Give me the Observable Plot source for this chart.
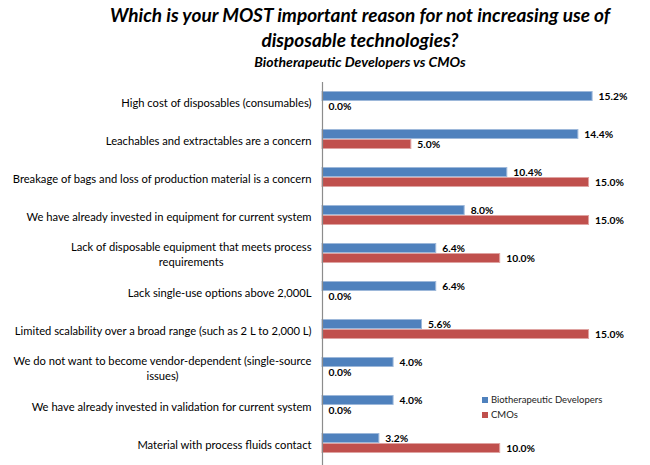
<!DOCTYPE html>
<html><head><meta charset="utf-8">
<script src="https://cdn.jsdelivr.net/npm/d3@7"></script>
<script src="https://cdn.jsdelivr.net/npm/@observablehq/plot@0.6"></script>
<style>
body{margin:0;background:#fff;font-family:Lato,sans-serif;}
#wrap{position:relative;width:650px;height:465px;overflow:hidden;}
#title{position:absolute;left:0;top:2px;width:720px;text-align:center;font-weight:bold;font-style:italic;color:#000;}
#t1{font-size:19px;line-height:25px;}
#t2{font-size:14px;line-height:20px;}
#chart{position:absolute;left:0;top:75px;}
#legend{position:absolute;left:482px;top:392px;font-size:9.5px;color:#222;}
#legend div{height:15px;line-height:15px;white-space:nowrap;}
#legend span.sw{display:inline-block;width:6px;height:6px;margin-right:3px;vertical-align:0px;}
</style></head>
<body><div id="wrap">
<div id="title"><div id="t1">Which is your MOST important reason for not increasing use of<br>disposable technologies?</div><div id="t2">Biotherapeutic Developers vs CMOs</div></div>
<div id="chart"></div>
<div id="legend"></div>
</div>
<script>
const categories = [
  "High cost of disposables (consumables)",
  "Leachables and extractables are a concern",
  "Breakage of bags and loss of production material is a concern",
  "We have already invested in equipment for current system",
  "Lack of disposable equipment that meets process\nrequirements",
  "Lack single-use options above 2,000L",
  "Limited scalability over a broad range (such as 2 L to 2,000 L)",
  "We do not want to become vendor-dependent (single-source\nissues)",
  "We have already invested in validation for current system",
  "Material with process fluids contact"
];
const bio = [15.2, 14.4, 10.4, 8.0, 6.4, 6.4, 5.6, 4.0, 4.0, 3.2];
const cmo = [0.0, 5.0, 15.0, 15.0, 10.0, 0.0, 15.0, 0.0, 0.0, 10.0];
const seriesNames = ["Biotherapeutic Developers", "CMOs"];
const colors = ["#4F81BD", "#C0504D"];
const strokes = ["#9DB8DA", "#DFA3A1"];

const bioData = categories.map((c, i) => ({cat: c, v: bio[i]}));
const cmoData = categories.map((c, i) => ({cat: c, v: cmo[i]}));

const plot = Plot.plot({
  width: 650, height: 390,
  marginLeft: 322, marginRight: 44, marginTop: 7, marginBottom: 0,
  x: {domain: [0, 16], range: [322, 606.3], axis: null},
  y: {domain: categories, range: [7, 387], padding: 0, axis: null},
  style: {fontFamily: "Lato, sans-serif", background: "transparent"},
  marks: [
    Plot.barX(bioData, {x: "v", y: "cat", fill: colors[0], stroke: strokes[0], strokeWidth: 1, insetTop: 9.5, insetBottom: 19.5}),
    Plot.barX(cmoData, {x: "v", y: "cat", fill: colors[1], stroke: strokes[1], strokeWidth: 1, insetTop: 19.5, insetBottom: 9.5}),
    Plot.text(bioData, {x: "v", y: "cat", dy: -5, dx: 6, text: d => d.v.toFixed(1) + "%", textAnchor: "start", fontWeight: "bold", fontSize: 10.3, fill: "#000"}),
    Plot.text(cmoData, {x: "v", y: "cat", dy: 5, dx: 6, text: d => d.v.toFixed(1) + "%", textAnchor: "start", fontWeight: "bold", fontSize: 10.3, fill: "#000"}),
    Plot.text(categories, {y: d => d, text: d => d, frameAnchor: "left", textAnchor: "end", lineAnchor: "middle", dx: -11, lineHeight: 1.4, fontSize: 11.2, fill: "#000", className: "catlabels"}),
    Plot.ruleX([0], {stroke: "#8c8c8c", strokeWidth: 1.2})
  ]
});
document.getElementById("chart").appendChild(plot);

plot.querySelectorAll(".catlabels text").forEach(t => {
  const spans = t.querySelectorAll("tspan");
  if (spans.length < 2) return;
  const w = Math.max(...Array.from(spans).map(s => s.getComputedTextLength()));
  t.setAttribute("text-anchor", "middle");
  spans.forEach(s => s.setAttribute("x", -w / 2));
});

const leg = document.getElementById("legend");
seriesNames.forEach((n, i) => {
  const d = document.createElement("div");
  const sw = document.createElement("span");
  sw.className = "sw"; sw.style.background = colors[i];
  d.appendChild(sw); d.appendChild(document.createTextNode(n));
  leg.appendChild(d);
});
</script>
</body></html>
